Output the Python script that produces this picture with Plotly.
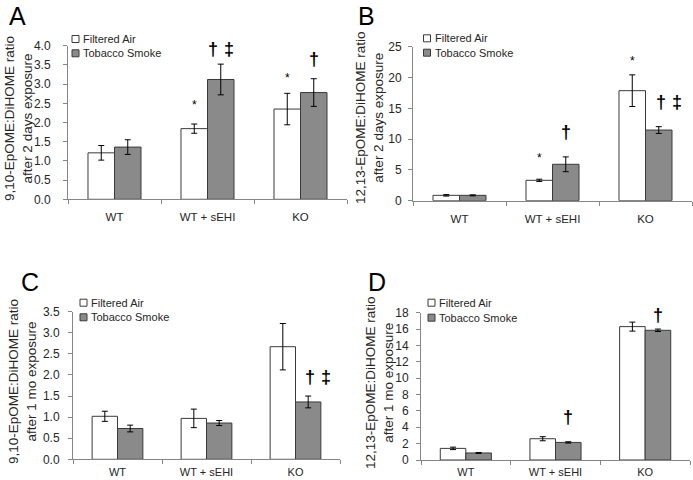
import plotly.graph_objects as go

categories = ["WT", "WT + sEHI", "KO"]
series_names = ["Filtered Air", "Tobacco Smoke"]

# Panel A: 9,10-EpOME:DiHOME after 2 days
a_fa = [1.21, 1.84, 2.35]
a_fa_err = [0.19, 0.12, 0.41]
a_ts = [1.36, 3.12, 2.78]
a_ts_err = [0.19, 0.40, 0.36]

# Panel B: 12,13-EpOME:DiHOME after 2 days
b_fa = [0.87, 3.31, 17.86]
b_fa_err = [0.12, 0.18, 2.57]
b_ts = [0.87, 5.91, 11.47]
b_ts_err = [0.08, 1.2, 0.55]

# Panel C: 9,10-EpOME:DiHOME after 1 mo
c_fa = [1.02, 0.97, 2.67]
c_fa_err = [0.12, 0.22, 0.55]
c_ts = [0.73, 0.86, 1.36]
c_ts_err = [0.08, 0.06, 0.14]

# Panel D: 12,13-EpOME:DiHOME after 1 mo
d_fa = [1.42, 2.60, 16.30]
d_fa_err = [0.15, 0.25, 0.55]
d_ts = [0.86, 2.15, 15.85]
d_ts_err = [0.05, 0.08, 0.15]

y_titles = [
    "9,10-EpOME:DiHOME ratio<br>after 2 days exposure",
    "12,13-EpOME:DiHOME ratio<br>after 2 days exposure",
    "9,10-EpOME:DiHOME ratio<br>after 1 mo exposure",
    "12,13-EpOME:DiHOME ratio<br>after 1 mo exposure",
]
panel_letters = ["A", "B", "C", "D"]
y_ranges = [(0, 4.0), (0, 25), (0, 3.5), (0, 18)]
y_dticks = [0.5, 5, 0.5, 2]
y_formats = [".1f", "d", ".1f", "d"]

# significance marks: (panel index, category index, series index, y value, text, xshift)
DAG2 = "†\u2004‡"
marks = [
    (0, 1, 0, 2.46, "*", 0),
    (0, 1, 1, 3.84, DAG2, 0),
    (0, 2, 0, 3.15, "*", 0),
    (0, 2, 1, 3.57, "†", 0),
    (1, 1, 0, 6.9, "*", 0),
    (1, 1, 1, 10.7, "†", 0),
    (1, 2, 0, 22.7, "*", 0),
    (1, 2, 1, 15.5, DAG2, 10),
    (2, 2, 0, 3.56, "*", 0),
    (2, 2, 1, 1.88, DAG2, 10),
    (3, 1, 1, 4.9, "†", 0),
    (3, 2, 0, 19.1, "*", 0),
    (3, 2, 1, 17.3, "†", 0),
]

W, H = 693, 480
FONT = "Liberation Sans"
AXIS_COL = "#868686"
TXT = "#262626"
GREY = "#8a8a8a"
EDGE = "#3a3a3a"
BARGAP = 0.43

# plot areas in pixels (x0, x1, ytop, ybottom)
areas = [
    (68, 347, 45.7, 199.3),
    (413, 692, 46.7, 200.7),
    (73, 340, 311.7, 459.3),
    (421, 690, 312.7, 460),
]
y_standoff = [10, 4, 6, 5]
x_standoff = [7, 7, 2, 2]
x_fontsize = [11.5, 11.5, 11, 11]
title_pos = [(18, 119), (369, 117), (22, 382), (379, 383)]
# (x, y, yanchor)
letter_pos = [(17, 0, "top"), (366, 0, "top"), (30, 282, "middle"), (377, 282, "middle")]
legend_pos = [(72, 39, 53.3), (423.5, 38.3, 52.7), (80, 302.7, 317.3), (428, 302.7, 317.7)]

data = [
    (a_fa, a_fa_err, a_ts, a_ts_err),
    (b_fa, b_fa_err, b_ts, b_ts_err),
    (c_fa, c_fa_err, c_ts, c_ts_err),
    (d_fa, d_fa_err, d_ts, d_ts_err),
]

fig = go.Figure()
layout = dict(
    width=W, height=H, margin=dict(l=0, r=0, t=0, b=0, autoexpand=False),
    paper_bgcolor="white", plot_bgcolor="white",
    barmode="group", bargap=BARGAP, bargroupgap=0,
    showlegend=False, font=dict(family=FONT, color=TXT),
)
annotations = []
shapes = []

def px(x):
    return x / W

def py(y):
    return 1 - y / H

for i in range(4):
    fa, fa_err, ts, ts_err = data[i]
    sfx = "" if i == 0 else str(i + 1)
    xa, ya = "x" + sfx, "y" + sfx
    for name, vals, errs, color in [(series_names[0], fa, fa_err, "white"),
                                    (series_names[1], ts, ts_err, GREY)]:
        fig.add_trace(go.Bar(
            x=categories, y=vals, name=name, xaxis=xa, yaxis=ya,
            marker=dict(color=color, line=dict(color=EDGE, width=1)),
            error_y=dict(type="data", array=errs, color="black", thickness=1, width=3),
            cliponaxis=False,
        ))
    x0, x1, yt, yb = areas[i]
    layout["xaxis" + sfx] = dict(
        domain=[px(x0), px(x1)], anchor=ya, type="category", automargin=False,
        range=[-0.5, 2.5], showline=True, linecolor=AXIS_COL, linewidth=1,
        ticks="outside", tickson="boundaries", ticklen=4, tickcolor=AXIS_COL,
        ticklabelstandoff=x_standoff[i],
        tickfont=dict(size=x_fontsize[i], family=FONT, color=TXT), showgrid=False,
        fixedrange=True,
    )
    layout["yaxis" + sfx] = dict(
        domain=[py(yb), py(yt)], anchor=xa, range=list(y_ranges[i]), automargin=False,
        dtick=y_dticks[i], tick0=0, tickformat=y_formats[i],
        showline=True, linecolor=AXIS_COL, linewidth=1,
        ticks="outside", ticklen=4, tickcolor=AXIS_COL,
        ticklabelstandoff=y_standoff[i],
        tickfont=dict(size=12, family=FONT, color=TXT),
        showgrid=False, zeroline=False, fixedrange=True,
    )
    tx, ty = title_pos[i]
    annotations.append(dict(
        text=y_titles[i], xref="paper", yref="paper", x=px(tx), y=py(ty),
        xanchor="center", yanchor="middle", textangle=-90, showarrow=False,
        font=dict(size=13.5, family=FONT, color=TXT),
    ))
    lx, ly, lanchor = letter_pos[i]
    annotations.append(dict(
        text=panel_letters[i], xref="paper", yref="paper", x=px(lx), y=py(ly),
        xanchor="center", yanchor=lanchor, showarrow=False,
        font=dict(size=25, family=FONT, color="black"),
    ))
    gx, gy1, gy2 = legend_pos[i]
    for j, (gy, col) in enumerate([(gy1, "white"), (gy2, GREY)]):
        shapes.append(dict(
            type="rect", xref="paper", yref="paper",
            x0=px(gx), x1=px(gx + 7), y0=py(gy + 3.5), y1=py(gy - 3.5),
            fillcolor=col, line=dict(color=EDGE, width=1),
        ))
        annotations.append(dict(
            text=series_names[j], xref="paper", yref="paper", x=px(gx + 9), y=py(gy),
            xanchor="left", yanchor="middle", showarrow=False,
            font=dict(size=11, family=FONT, color=TXT),
        ))

half = (1 - BARGAP) / 4
for (p, c, s, yv, txt, xs) in marks:
    sfx = "" if p == 0 else str(p + 1)
    xpos = c + (-half if s == 0 else half)
    big = txt != "*"
    annotations.append(dict(
        text=("<b>" + txt + "</b>") if big else txt,
        xref="x" + sfx, yref="y" + sfx, x=xpos, y=yv,
        xanchor="center", yanchor="middle", showarrow=False, xshift=xs,
        yshift=3 if big else 0,
        font=dict(size=18 if big else 12, family=FONT, color="black"),
    ))

layout["annotations"] = annotations
layout["shapes"] = shapes
fig.update_layout(**layout)
fig.write_html("out.html", post_script="document.body.style.margin='0';",
               config={"displayModeBar": False})
